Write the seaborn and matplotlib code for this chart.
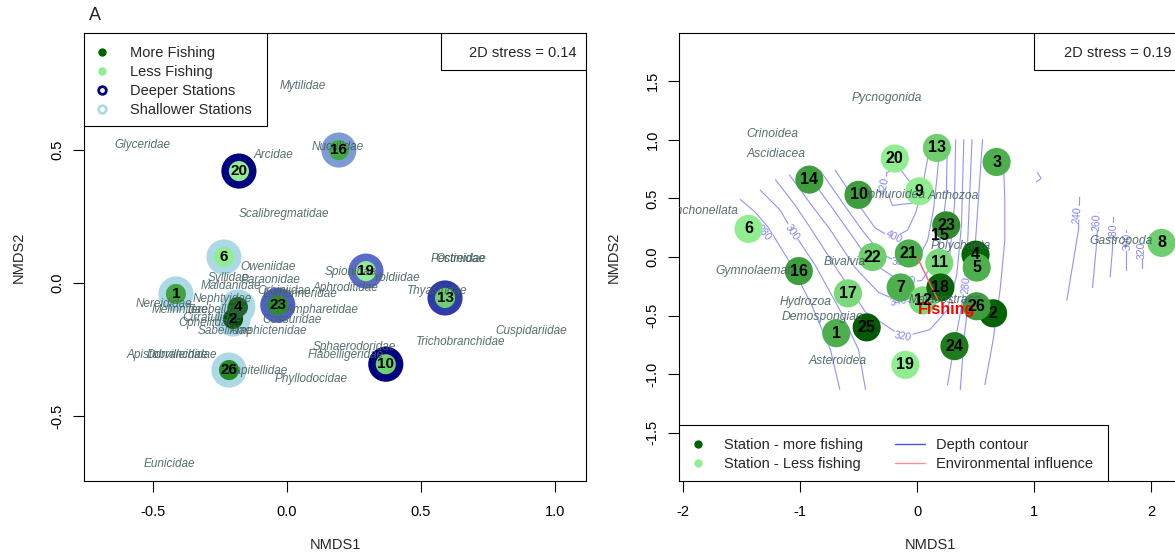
import numpy as np
import pandas as pd
import matplotlib
matplotlib.use("Agg")
import matplotlib.pyplot as plt
import seaborn as sns
from matplotlib.lines import Line2D
from matplotlib.patches import Rectangle

# ---------------- Panel A data ----------------
a_station = ["20", "16", "6", "1", "2", "4", "23", "19", "13", "10", "26"]
a_x = [-0.179, 0.194, -0.235, -0.414, -0.201, -0.183, -0.034, 0.295, 0.590, 0.369, -0.216]
a_y = [0.421, 0.500, 0.098, -0.041, -0.135, -0.090, -0.083, 0.045, -0.056, -0.305, -0.327]
a_depth_col = ["#000080", "#7C9CD4", "#ADD8E6", "#ADD8E6", "#ADD8E6", "#ADD8E6",
               "#5062C0", "#5A6CC8", "#2E3CAA", "#000080", "#ADD8E6"]
a_fish_col = ["#90EE90", "#43A843", "#90EE90", "#43A343", "#005200", "#146814",
              "#2E8B2E", "#90EE90", "#6CD06C", "#6CD06C", "#228B22"]

a_species = ["Mytilidae", "Glyceridae", "Arcidae", "Nuculidae", "Scalibregmatidae",
             "Oweniidae", "Syllidae", "Paraonidae", "Maldanidae", "Nephtyidae",
             "Nereididae", "Melinnidae", "Terebellidae", "Cirratulidae", "Opheliidae",
             "Sabellidae", "Amphictenidae", "Orbiniidae", "Lumbrineridae", "Aphroditidae",
             "Ampharetidae", "Cossuridae", "Spionidae", "Yoldiidae", "Pectinidae",
             "Ostreidae", "Thyasiridae", "Cuspidariidae", "Trichobranchidae",
             "Sphaerodoridae", "Flabelligeridae", "Capitellidae", "Phyllodocidae",
             "Apistobranchidae", "Dorvilleidae", "Eunicidae"]
a_sp_x = [0.06, -0.54, -0.05, 0.19, -0.01, -0.07, -0.22, -0.06, -0.21, -0.24,
          -0.46, -0.40, -0.26, -0.28, -0.30, -0.23, -0.07, -0.01, 0.05, 0.22,
          0.13, 0.02, 0.24, 0.41, 0.64, 0.65, 0.56, 0.91, 0.65,
          0.25, 0.22, -0.11, 0.09, -0.43, -0.41, -0.44]
a_sp_y = [0.74, 0.52, 0.48, 0.51, 0.26, 0.06, 0.02, 0.01, -0.01, -0.06,
          -0.08, -0.10, -0.10, -0.13, -0.15, -0.18, -0.18, -0.03, -0.04, -0.02,
          -0.10, -0.14, 0.04, 0.02, 0.09, 0.09, -0.03, -0.18, -0.22,
          -0.24, -0.27, -0.33, -0.36, -0.27, -0.27, -0.68]

# ---------------- Panel B data ----------------
b_station = ["1", "2", "3", "4", "5", "6", "7", "8", "9", "10", "11", "12", "13",
             "14", "16", "17", "18", "19", "20", "21", "22", "23", "24", "25", "26"]
b_x = [-0.69, 0.65, 0.68, 0.50, 0.51, -1.44, -0.14, 2.09, 0.02, -0.50, 0.19, 0.05, 0.17,
       -0.92, -1.01, -0.59, 0.20, -0.10, -0.19, -0.07, -0.38, 0.25, 0.32, -0.43, 0.51]
b_y = [-0.65, -0.48, 0.81, 0.02, -0.09, 0.24, -0.26, 0.12, 0.56, 0.53, -0.05, -0.37, 0.93,
       0.66, -0.12, -0.31, -0.26, -0.92, 0.84, 0.03, 0.00, 0.27, -0.76, -0.60, -0.42]
b_fish_col = ["#4DAF4D", "#006400", "#4DAF4D", "#006400", "#4DAF4D", "#90EE90",
              "#4DAF4D", "#6FCF6F", "#90EE90", "#3E9E3E", "#7AD97A", "#7AD97A",
              "#6FCF6F", "#3E9E3E", "#3E9E3E", "#7AD97A", "#0A640A", "#90EE90",
              "#90EE90", "#4DAF4D", "#6FCF6F", "#2E8B2E", "#1E7B1E", "#005A00", "#3E9E3E"]
b_nocol_station = ["15"]
b_nocol_x = [0.20]
b_nocol_y = [0.18]

b_species = ["Pycnogonida", "Crinoidea", "Ascidiacea", "Rhynchonellata", "Ophiuroidea",
             "Anthozoa", "Polychaeta", "Gastropoda", "Bivalvia", "Gymnolaemata",
             "Hydrozoa", "Demospongiae", "Asteroidea", "Malacostraca"]
b_sp_x = [-0.26, -1.24, -1.20, -1.88, -0.21, 0.31, 0.37, 1.74, -0.62, -1.37,
          -0.95, -0.81, -0.68, 0.24]
b_sp_y = [1.36, 1.05, 0.88, 0.39, 0.53, 0.52, 0.09, 0.14, -0.04, -0.12,
          -0.38, -0.51, -0.89, -0.37]

fishing_vec = [0.18, -0.37]

# depth contour lines (ordisurf)
c420_x = [-0.26, -0.15, -0.04, -0.03, -0.21, -0.26, -0.26]
c420_y = [0.72, 0.76, 0.61, 0.46, 0.44, 0.57, 0.72]
c400_x = [-0.70, -0.53, -0.36, -0.21, -0.08, -0.01, 0.04, 0.08, 0.11]
c400_y = [0.74, 0.49, 0.25, 0.16, 0.23, 0.38, 0.57, 0.78, 0.95]
c380_x = [-0.83, -0.62, -0.47, -0.30, -0.13, 0.01, 0.09, 0.14, 0.17, 0.20]
c380_y = [0.74, 0.44, 0.23, 0.02, -0.05, -0.01, 0.14, 0.40, 0.67, 1.00]
c360_x = [-0.96, -0.74, -0.59, -0.40, -0.12, 0.04, 0.15, 0.21, 0.25, 0.26]
c360_y = [0.74, 0.44, 0.23, -0.04, -0.22, -0.20, -0.04, 0.19, 0.53, 1.00]
c340_x = [-1.09, -0.90, -0.74, -0.53, -0.33, -0.15, 0.07, 0.21, 0.28, 0.32, 0.33]
c340_y = [0.70, 0.44, 0.23, -0.09, -0.30, -0.38, -0.38, -0.24, 0.02, 0.44, 1.00]
c320_x = [-1.21, -1.04, -0.90, -0.68, -0.44, -0.12, 0.11, 0.26, 0.34, 0.38, 0.40]
c320_y = [0.66, 0.44, 0.23, -0.11, -0.47, -0.68, -0.62, -0.45, -0.15, 0.27, 1.00]
c300a_x = [-1.34, -1.17, -1.07, -0.87, -0.66, -0.50, -0.44]
c300a_y = [0.57, 0.40, 0.23, -0.07, -0.45, -0.79, -1.13]
c300b_x = [0.26, 0.32, 0.39, 0.43, 0.45, 0.47]
c300b_y = [-1.09, -0.75, -0.37, 0.06, 0.53, 1.00]
c280a_x = [-1.51, -1.38, -1.27, -1.09, -0.90, -0.74, -0.66]
c280a_y = [0.49, 0.38, 0.25, -0.04, -0.41, -0.79, -1.13]
c280b_x = [0.37, 0.40, 0.45, 0.50, 0.53, 0.56]
c280b_y = [-1.13, -0.71, -0.28, 0.14, 0.57, 1.00]
c260a_x = [0.74, 0.75, 0.75, 0.71, 0.65, 0.58]
c260a_y = [0.78, 0.49, 0.14, -0.28, -0.71, -1.09]
c250_x = [1.03, 1.06, 1.02]
c250_y = [0.72, 0.67, 0.64]
c240_x = [1.39, 1.38, 1.33, 1.28]
c240_y = [0.51, 0.23, -0.07, -0.37]
c260b_x = [1.55, 1.53, 1.50]
c260b_y = [0.38, 0.06, -0.26]
c280c_x = [1.68, 1.67, 1.65]
c280c_y = [0.34, 0.06, -0.17]
c300c_x = [1.79, 1.79]
c300c_y = [0.23, -0.11]
c320c_x = [1.92, 1.92]
c320c_y = [0.12, -0.09]

clab_text = ["420", "400", "380", "360", "340", "320", "300", "280", "280",
             "240", "260", "280", "300", "320"]
clab_x = [-0.28, -0.20, -0.14, -0.08, -0.16, -0.12, -1.07, -1.31, 0.42,
          1.37, 1.54, 1.68, 1.80, 1.92]
clab_y = [0.61, 0.17, -0.04, -0.21, -0.38, -0.68, 0.21, 0.21, -0.24,
          0.36, 0.30, 0.21, 0.13, 0.06]
clab_rot = [80, -25, 0, 10, 10, -10, -55, -50, 85, 85, 88, 90, 90, 90]

# ---------------- styling ----------------
sns.set_theme(style="white")
plt.rcParams['font.family'] = ['Liberation Sans', 'DejaVu Sans']
plt.rcParams['axes.edgecolor'] = 'black'
plt.rcParams['axes.linewidth'] = 0.8

SP_COL = "#44605f"
FS = 10.5

fig = plt.figure(figsize=(11.75, 5.55), dpi=100)
W, H = 1175.0, 555.0
axA = fig.add_axes([84 / W, 1 - 481 / H, 502 / W, 448 / H])
axB = fig.add_axes([679 / W, 1 - 481 / H, 502 / W, 448 / H])


def style_axis(ax):
    ax.tick_params(axis='both', which='both', bottom=True, left=True, top=False, right=False,
                   direction='out', length=8, width=0.8, colors='black', labelsize=FS)
    ax.tick_params(axis='x', pad=9)
    ax.tick_params(axis='y', pad=6)
    for lab in ax.get_yticklabels():
        lab.set_rotation(90)
        lab.set_va('center')
    for s in ax.spines.values():
        s.set_visible(True)
        s.set_color('black')
        s.set_linewidth(0.8)
    ax.set_xlabel("NMDS1", fontsize=FS, labelpad=14)
    ax.set_ylabel("NMDS2", fontsize=FS, labelpad=18)


def framed_legend(ax, handles, frame, anchor, **kw):
    ax.add_patch(Rectangle((frame[0], frame[1]), frame[2], frame[3], transform=ax.transAxes,
                           facecolor='white', edgecolor='black', lw=0.8, zorder=9))
    leg = ax.legend(handles=handles, loc='upper left', bbox_to_anchor=anchor,
                    borderaxespad=0, borderpad=0, frameon=False, fontsize=FS, **kw)
    leg.set_zorder(10)
    return leg


# ---------------- Panel A ----------------
dfa = pd.DataFrame({"station": a_station, "x": a_x, "y": a_y})
sns.scatterplot(data=dfa, x="x", y="y", hue="station",
                palette=dict(zip(a_station, a_depth_col)), s=640,
                linewidth=0, legend=False, ax=axA, zorder=3)
sns.scatterplot(data=dfa, x="x", y="y", hue="station",
                palette=dict(zip(a_station, a_fish_col)), s=210,
                linewidth=0, legend=False, ax=axA, zorder=4)
for nm, x, y in zip(a_species, a_sp_x, a_sp_y):
    axA.text(x, y, nm, color=SP_COL, fontsize=8.5, style='italic', ha='center', va='center',
             zorder=5, alpha=0.9)
for st, x, y in zip(a_station, a_x, a_y):
    axA.text(x, y, st, color='black', fontsize=11, fontweight='bold',
             ha='center', va='center', zorder=6)

axA.set_xlim(-0.757, 1.116)
axA.set_ylim(-0.744, 0.94)
axA.set_xticks([-0.5, 0.0, 0.5, 1.0])
axA.set_xticklabels(["-0.5", "0.0", "0.5", "1.0"])
axA.set_yticks([-0.5, 0.0, 0.5])
axA.set_yticklabels(["-0.5", "0.0", "0.5"])
style_axis(axA)

hA = [Line2D([], [], marker='o', ls='', color='#006400', markersize=5, label='More Fishing'),
      Line2D([], [], marker='o', ls='', color='#90EE90', markersize=5, label='Less Fishing'),
      Line2D([], [], marker='o', ls='', markerfacecolor='none', markeredgecolor='#000080',
             markeredgewidth=2, markersize=5.5, label='Deeper Stations'),
      Line2D([], [], marker='o', ls='', markerfacecolor='none', markeredgecolor='#ADD8E6',
             markeredgewidth=2, markersize=5.5, label='Shallower Stations')]
framed_legend(axA, hA, (0, 0.7924, 0.3645, 0.2076), (0.0213, 0.9705),
              handlelength=1.0, handletextpad=1.42, labelspacing=0.34)

axA.add_patch(Rectangle((0.711, 0.917), 0.289, 0.083, transform=axA.transAxes,
                        facecolor='white', edgecolor='black', lw=0.8, zorder=10))
axA.text(0.874, 0.956, "2D stress = 0.14", transform=axA.transAxes, fontsize=FS,
         ha='center', va='center', zorder=11)

# ---------------- Panel B ----------------
CONT = "#6f6ff0"
contours = [(c420_x, c420_y), (c400_x, c400_y), (c380_x, c380_y), (c360_x, c360_y),
            (c340_x, c340_y), (c320_x, c320_y), (c300a_x, c300a_y), (c300b_x, c300b_y),
            (c280a_x, c280a_y), (c280b_x, c280b_y), (c260a_x, c260a_y), (c250_x, c250_y),
            (c240_x, c240_y), (c260b_x, c260b_y), (c280c_x, c280c_y), (c300c_x, c300c_y),
            (c320c_x, c320c_y)]
for cx, cy in contours:
    sns.lineplot(x=cx, y=cy, sort=False, estimator=None, color=CONT, lw=0.8, alpha=0.75,
                 ax=axB, zorder=1)
for t, x, y, r in zip(clab_text, clab_x, clab_y, clab_rot):
    axB.text(x, y, t, color=CONT, fontsize=7.5, rotation=r, ha='center', va='center',
             rotation_mode='anchor', alpha=0.85, zorder=2,
             bbox=dict(facecolor='white', edgecolor='none', pad=0.3))

dfb = pd.DataFrame({"station": b_station, "x": b_x, "y": b_y})
sns.scatterplot(data=dfb, x="x", y="y", hue="station",
                palette=dict(zip(b_station, b_fish_col)), s=410,
                linewidth=0, legend=False, ax=axB, zorder=3)
for nm, x, y in zip(b_species, b_sp_x, b_sp_y):
    axB.text(x, y, nm, color=SP_COL, fontsize=8.7, style='italic', ha='center', va='center',
             zorder=5, alpha=0.9, clip_on=True)
axB.plot([0, fishing_vec[0]], [0, fishing_vec[1]], color='#ff6060', lw=1, zorder=6)
axB.text(fishing_vec[0] + 0.07, fishing_vec[1] - 0.08, "Fishing", color='#ff0000',
         fontsize=11.5, fontweight='bold', ha='center', va='center', zorder=7)
for st, x, y in zip(b_station + b_nocol_station, b_x + b_nocol_x, b_y + b_nocol_y):
    axB.text(x, y, st, color='black', fontsize=11.5, fontweight='bold',
             ha='center', va='center', zorder=8)

axB.set_xlim(-2.034, 2.256)
axB.set_ylim(-1.91, 1.91)
axB.set_xticks([-2, -1, 0, 1, 2])
axB.set_xticklabels(["-2", "-1", "0", "1", "2"])
axB.set_yticks([-1.5, -1.0, -0.5, 0.0, 0.5, 1.0, 1.5])
axB.set_yticklabels(["-1.5", "-1.0", "-0.5", "0.0", "0.5", "1.0", "1.5"])
style_axis(axB)

hB = [Line2D([], [], marker='o', ls='', color='#006400', markersize=5, label='Station - more fishing'),
      Line2D([], [], marker='o', ls='', color='#90EE90', markersize=5, label='Station - Less fishing'),
      Line2D([], [], color='#5050e0', lw=1, label='Depth contour'),
      Line2D([], [], color='#ff9090', lw=1, label='Environmental influence')]
framed_legend(axB, hB, (0, 0, 0.855, 0.125), (0.008, 0.096), ncol=2,
              handlelength=2.06, handletextpad=0.75, labelspacing=0.33, columnspacing=2.2)

axB.add_patch(Rectangle((0.707, 0.917), 0.293, 0.083, transform=axB.transAxes,
                        facecolor='white', edgecolor='black', lw=0.8, zorder=10))
axB.text(0.874, 0.956, "2D stress = 0.19", transform=axB.transAxes, fontsize=FS,
         ha='center', va='center', zorder=11)

fig.text(95 / W, 1 - 15 / H, "A", fontsize=13, ha='center', va='center')

fig.savefig("out.png", dpi=100)
